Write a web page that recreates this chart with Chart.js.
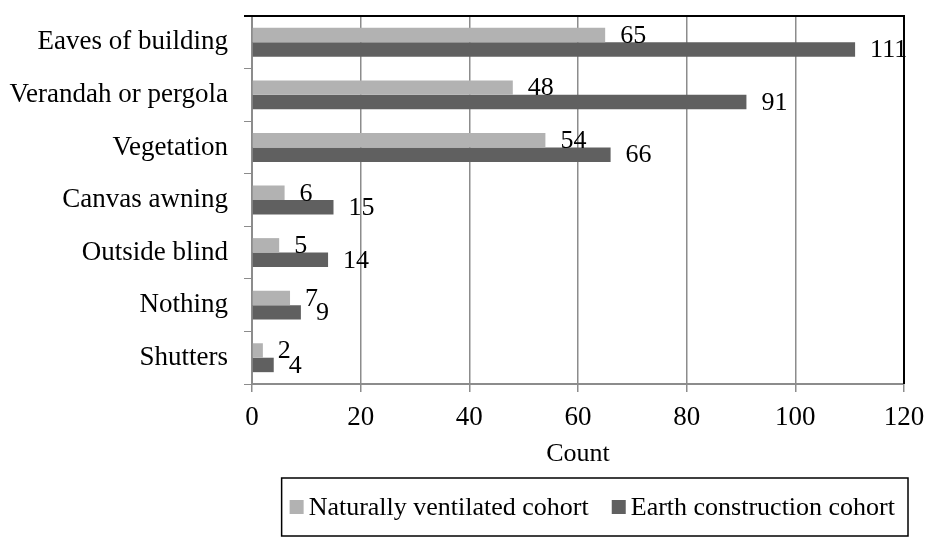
<!DOCTYPE html>
<html>
<head>
<meta charset="utf-8">
<script src="https://cdn.jsdelivr.net/npm/chart.js@4.4.1/dist/chart.umd.min.js"></script>
<style>
  html, body { margin: 0; padding: 0; background: #ffffff; }
  #wrap { width: 928px; height: 543px; }
</style>
</head>
<body>
<div id="wrap"><canvas id="chart" width="928" height="543"></canvas></div>
<script>
// Shading devices reported by each cohort
const categories = [
  'Eaves of building',
  'Verandah or pergola',
  'Vegetation',
  'Canvas awning',
  'Outside blind',
  'Nothing',
  'Shutters'
];
const naturallyVentilated = [65, 48, 54, 6, 5, 7, 2];
const earthConstruction = [111, 91, 66, 15, 14, 9, 4];
const seriesNames = ['Naturally ventilated cohort', 'Earth construction cohort'];
const countTicks = [0, 20, 40, 60, 80, 100, 120];

const FONT = '"Liberation Serif", "Times New Roman", serif';
const LIGHT = '#b2b2b2';
const DARK = '#606060';
const AXIS = '#8c8c8c';

// Numbers printed just past the end of each bar
const valueLabels = {
  id: 'valueLabels',
  afterDatasetsDraw(chart) {
    const ctx = chart.ctx;
    ctx.save();
    ctx.font = '26px ' + FONT;
    ctx.fillStyle = '#000000';
    ctx.textAlign = 'left';
    ctx.textBaseline = 'middle';
    chart.data.datasets.forEach((ds, i) => {
      chart.getDatasetMeta(i).data.forEach((bar, j) => {
        ctx.fillText(String(ds.data[j]), bar.x + 15, bar.y + 1);
      });
    });
    ctx.restore();
  }
};

// Black frame along the top and right of the plot area
const plotFrame = {
  id: 'plotFrame',
  afterDraw(chart) {
    const { top, right, bottom, left } = chart.chartArea;
    const ctx = chart.ctx;
    ctx.save();
    ctx.strokeStyle = '#000000';
    ctx.lineWidth = 2;
    ctx.beginPath();
    ctx.moveTo(left - 8, top);
    ctx.lineTo(right, top);
    ctx.lineTo(right, bottom);
    ctx.stroke();
    ctx.restore();
  }
};

// Boxed legend below the axis title
const boxedLegend = {
  id: 'boxedLegend',
  afterDraw(chart) {
    const ctx = chart.ctx;
    ctx.save();
    ctx.font = '26px ' + FONT;
    const marker = 14, markerGap = 5, itemGap = 23, padL = 8, padR = 13;
    const items = chart.data.datasets.map(ds => ({
      text: ds.label,
      color: ds.backgroundColor,
      w: ctx.measureText(ds.label).width
    }));
    let total = padL + padR + itemGap * (items.length - 1);
    items.forEach(it => { total += marker + markerGap + it.w; });
    const boxRight = 908, boxTop = 478, boxBottom = 536;
    const boxLeft = boxRight - total;
    const midY = (boxTop + boxBottom) / 2;
    ctx.strokeStyle = '#000000';
    ctx.lineWidth = 1.5;
    ctx.strokeRect(boxLeft, boxTop, total, boxBottom - boxTop);
    let x = boxLeft + padL;
    ctx.textAlign = 'left';
    ctx.textBaseline = 'middle';
    items.forEach(it => {
      ctx.fillStyle = it.color;
      ctx.fillRect(x, midY - marker / 2, marker, marker);
      x += marker + markerGap;
      ctx.fillStyle = '#000000';
      ctx.fillText(it.text, x, midY + 1);
      x += it.w + itemGap;
    });
    ctx.restore();
  }
};

new Chart(document.getElementById('chart'), {
  type: 'bar',
  data: {
    labels: categories,
    datasets: [
      {
        label: seriesNames[0],
        data: naturallyVentilated,
        backgroundColor: LIGHT,
        borderWidth: 0,
        categoryPercentage: 0.55,
        barPercentage: 1.0
      },
      {
        label: seriesNames[1],
        data: earthConstruction,
        backgroundColor: DARK,
        borderWidth: 0,
        categoryPercentage: 0.55,
        barPercentage: 1.0
      }
    ]
  },
  options: {
    indexAxis: 'y',
    responsive: false,
    animation: false,
    devicePixelRatio: 1,
    layout: { padding: { top: 16, right: 24, left: 0, bottom: 73 } },
    plugins: {
      legend: { display: false },
      tooltip: { enabled: false }
    },
    scales: {
      x: {
        min: countTicks[0],
        max: countTicks[countTicks.length - 1],
        afterBuildTicks(scale) {
          scale.ticks = countTicks.map(v => ({ value: v }));
        },
        afterFit(scale) {
          scale.height = 86;
          scale.paddingLeft = 0;
          scale.paddingRight = 0;
        },
        ticks: {
          color: '#000000',
          font: { family: FONT, size: 27 },
          padding: 10,
          maxRotation: 0
        },
        grid: {
          color: AXIS,
          lineWidth: 1.5,
          drawTicks: true,
          tickLength: 8,
          tickColor: AXIS
        },
        border: { display: true, color: AXIS, width: 2 },
        title: {
          display: true,
          text: 'Count',
          color: '#000000',
          font: { family: FONT, size: 26 },
          padding: { top: 0, bottom: 0 }
        }
      },
      y: {
        afterFit(scale) {
          scale.width = 252;
          scale.paddingTop = 0;
          scale.paddingBottom = 0;
        },
        ticks: {
          color: '#000000',
          font: { family: FONT, size: 27 },
          padding: 16
        },
        grid: {
          drawOnChartArea: false,
          drawTicks: true,
          tickLength: 8,
          tickColor: AXIS,
          color: AXIS,
          offset: true
        },
        border: { display: true, color: AXIS, width: 2 }
      }
    }
  },
  plugins: [valueLabels, plotFrame, boxedLegend]
});
</script>
</body>
</html>
